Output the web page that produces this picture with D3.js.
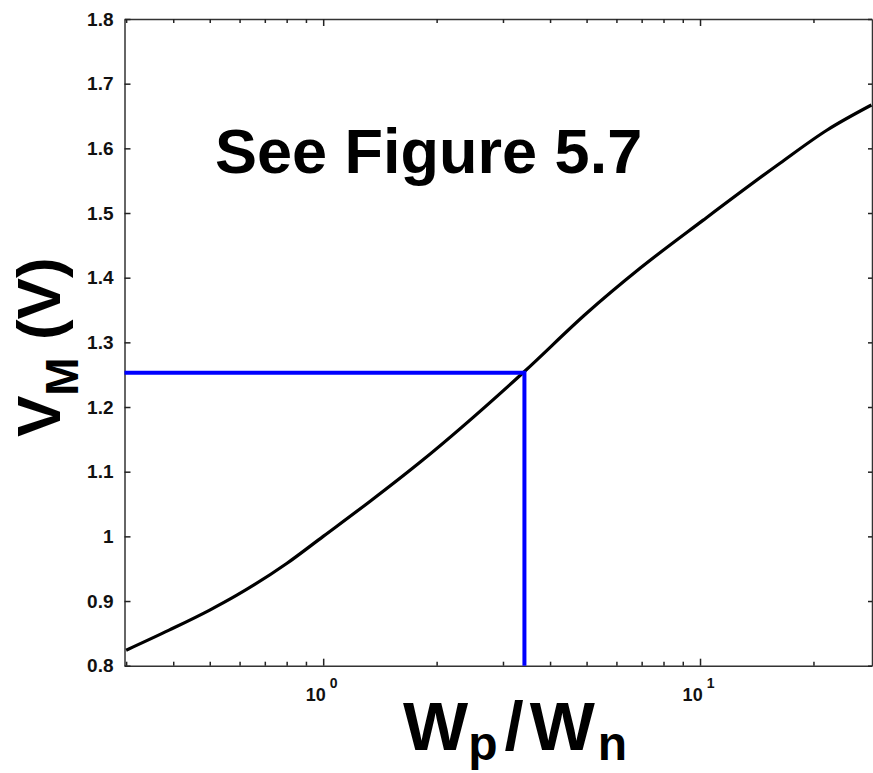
<!DOCTYPE html>
<html>
<head>
<meta charset="utf-8">
<script src="https://cdn.jsdelivr.net/npm/d3@7"></script>
<style>
  body { margin: 0; background: #fff; }
  svg { display: block; font-family: "Liberation Sans", Arial, sans-serif; }
</style>
</head>
<body>
<div id="chart"></div>
<script>
// curve: Wp/Wn ratio vs switching threshold VM
var wpwn = [0.3, 0.39, 0.5, 0.59, 0.8, 1.0, 1.33, 1.81, 3.42, 5.0, 6.93, 10.2, 16.3, 21.7, 28.5];
var vm   = [0.824, 0.855, 0.886, 0.909, 0.958, 1.0, 1.054, 1.115, 1.255, 1.345, 1.4145, 1.489, 1.577, 1.628, 1.667];

// the blue marker (symmetric point)
var markX = [3.42];
var markY = [1.253];

var yTicks = [0.8, 0.9, 1.0, 1.1, 1.2, 1.3, 1.4, 1.5, 1.6, 1.7, 1.8];
var xMajor = [1, 10];
var xDomain = [0.297, 28.6];
var yDomain = [0.8, 1.8];

var width = 873, height = 773;
var margin = {top: 19, right: 1, bottom: 107.3, left: 124.5};

var svg = d3.select("#chart").append("svg")
    .attr("width", width)
    .attr("height", height);

svg.append("rect").attr("width", width).attr("height", height).attr("fill", "#fff");

var chartWidth = width - margin.left - margin.right;
var chartHeight = height - margin.top - margin.bottom;

var x = d3.scaleLog().domain(xDomain).range([0, chartWidth]);
var y = d3.scaleLinear().domain(yDomain).range([chartHeight, 0]);

var g = svg.append("g")
    .attr("transform", "translate(" + margin.left + "," + margin.top + ")");

// all log ticks inside the domain
var xTicks = x.ticks(20).filter(function(d) { return d >= xDomain[0] && d <= xDomain[1]; });
function isMajor(d) { return xMajor.indexOf(d) >= 0; }

function styleAxis(a) {
  a.select(".domain").attr("stroke", "#333").attr("stroke-width", 1.5);
  a.selectAll(".tick line").attr("stroke", "#222").attr("stroke-width", 1.5);
}

// bottom
var xb = g.append("g")
    .attr("transform", "translate(0," + chartHeight + ")")
    .call(d3.axisBottom(x).tickValues(xTicks).tickSize(-4).tickSizeOuter(0).tickFormat(""));
styleAxis(xb);
xb.selectAll(".tick line").attr("y2", function(d) { return isMajor(d) ? -7 : -4; });
xb.selectAll(".tick").filter(isMajor).append("text")
    .attr("fill", "#111")
    .attr("y", 35)
    .attr("text-anchor", "middle")
    .style("font-size", "18px")
    .style("font-weight", "bold")
    .each(function(d) {
      var t = d3.select(this);
      t.append("tspan").attr("dx", -2).text("10");
      t.append("tspan").attr("dx", 4).attr("dy", -13).style("font-size", "14px")
        .text(Math.round(Math.log10(d)));
    });

// top
var xt = g.append("g")
    .call(d3.axisTop(x).tickValues(xTicks).tickSize(-4).tickSizeOuter(0).tickFormat(""));
styleAxis(xt);
xt.selectAll(".tick line").attr("y2", function(d) { return isMajor(d) ? 7 : 4; });

// left
var yl = g.append("g")
    .call(d3.axisLeft(y).tickValues(yTicks).tickSize(-6).tickSizeOuter(0).tickPadding(11)
      .tickFormat(d3.format("~g")));
styleAxis(yl);
yl.selectAll(".tick text")
    .attr("fill", "#111")
    .style("font-size", "19px")
    .style("font-weight", "bold");

// right
var yr = g.append("g")
    .attr("transform", "translate(" + chartWidth + ",0)")
    .call(d3.axisRight(y).tickValues(yTicks).tickSize(-4).tickSizeOuter(0).tickFormat(""));
styleAxis(yr);

// curve
var data = wpwn.map(function(d, i) { return {x: d, y: vm[i]}; });
var line = d3.line()
    .x(function(d) { return x(d.x); })
    .y(function(d) { return y(d.y); })
    .curve(d3.curveMonotoneX);

g.append("path")
    .datum(data)
    .attr("fill", "none")
    .attr("stroke", "#000")
    .attr("stroke-width", 3.2)
    .attr("stroke-linejoin", "round")
    .attr("d", line);

// blue guide lines
var guide = [{x: xDomain[0], y: markY[0]}, {x: markX[0], y: markY[0]}, {x: markX[0], y: yDomain[0]}];
g.append("path")
    .datum(guide)
    .attr("fill", "none")
    .attr("stroke", "#0000ff")
    .attr("stroke-width", 4)
    .attr("d", d3.line().x(function(d) { return x(d.x); }).y(function(d) { return y(d.y); }));

// annotation
svg.append("text")
    .attr("x", 215)
    .attr("y", 173)
    .attr("fill", "#000")
    .style("font-size", "63px")
    .style("font-weight", "bold")
    .text("See Figure 5.7");

// x title
var xt2 = svg.append("text")
    .attr("x", 403)
    .attr("y", 750)
    .attr("fill", "#000")
    .style("font-weight", "bold")
    .style("font-size", "69px");
xt2.append("tspan").text("W");
xt2.append("tspan").attr("dx", 0).attr("dy", 10).style("font-size", "48px").text("p");
xt2.append("tspan").attr("dx", 7).attr("dy", -10).text("/");
xt2.append("tspan").attr("dx", 6).text("W");
xt2.append("tspan").attr("dy", 10).attr("dx", 3).style("font-size", "48px").text("n");

// y title
var yt = svg.append("text")
    .attr("transform", "translate(60,437) rotate(-90)")
    .attr("fill", "#000")
    .style("font-weight", "bold")
    .style("font-size", "62px");
yt.append("tspan").text("V");
yt.append("tspan").attr("dy", 18).style("font-size", "46px").text("M");
yt.append("tspan").attr("dy", -18).text(" (V)");
</script>
</body>
</html>
